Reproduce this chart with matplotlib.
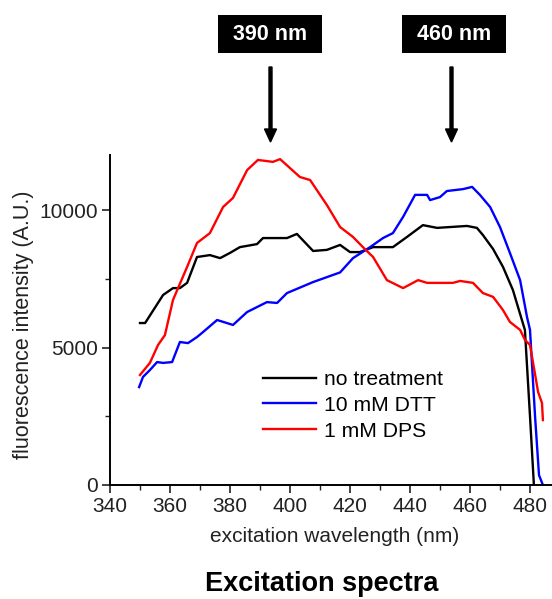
import matplotlib
matplotlib.use("Agg")
import matplotlib.pyplot as plt
from matplotlib.ticker import MultipleLocator
from matplotlib.patches import Rectangle, FancyArrow

plt.rcParams['font.family'] = ['Liberation Sans', 'DejaVu Sans']

# no treatment (black)
nt_x = [350, 351.7, 357.7, 361, 363.3, 365.7, 369, 373.3, 376.7, 380, 383.3, 389, 391, 399, 402.3,
        407.7, 412.3, 416.7, 420, 423.3, 427.7, 434.3, 439, 444.3, 449, 459, 462.3, 464.3, 467.7,
        471, 474.3, 477.3, 478.3, 480, 481.3]
nt_y = [5890, 5890, 6910, 7160, 7160, 7350, 8290, 8360, 8250, 8440, 8650, 8760, 8980, 8980, 9130,
        8510, 8550, 8730, 8470, 8470, 8650, 8650, 9020, 9450, 9350, 9420, 9350, 9090, 8580,
        7930, 7090, 6000, 5640, 2500, 0]

# 10 mM DTT (blue)
dtt_x = [349.7, 351, 353.3, 355.7, 357.7, 360.7, 363.3, 366, 369, 371, 375.7, 381, 385.7, 392.3,
         395.7, 399, 407.7, 416.7, 421, 426.7, 431, 434.3, 437.7, 441.7, 445.7, 446.7, 450, 452.3,
         457.7, 460.7, 463.3, 466.7, 470, 473.3, 476.7, 479, 480, 481.7, 483, 484.3]
dtt_y = [3560, 3930, 4180, 4470, 4440, 4470, 5200, 5160, 5380, 5560, 6000, 5820, 6290, 6650,
         6620, 6980, 7380, 7730, 8250, 8650, 8980, 9160, 9750, 10550, 10550, 10360, 10470, 10690,
         10760, 10840, 10550, 10110, 9380, 8440, 7450, 6110, 5640, 2470, 360, 0]

# 1 mM DPS (red)
dps_x = [350, 353.3, 356, 358.3, 361, 365.7, 369, 373.3, 377.7, 381, 385.7, 389.3, 394.3, 396.7,
         403.3, 406.7, 412.3, 416.7, 421, 424.3, 427.7, 432.3, 437.7, 442.7, 445.7, 454.3, 456.7,
         461, 464.3, 467.7, 471, 473.3, 476.7, 478.3, 480, 482.7, 484, 484.3]
dps_y = [4000, 4440, 5090, 5450, 6730, 7930, 8800, 9160, 10110, 10440, 11450, 11820, 11750, 11850,
         11200, 11090, 10180, 9380, 9020, 8650, 8290, 7450, 7160, 7450, 7350, 7350, 7420,
         7350, 6980, 6840, 6360, 5930, 5640, 5280, 5090, 3380, 2980, 2360]

labels = ["no treatment", "10 mM DTT", "1 mM DPS"]
colors = ["black", "blue", "red"]
peak_labels = ["390 nm", "460 nm"]

W, H = 552, 599
fig = plt.figure(figsize=(W / 100, H / 100), dpi=100)
ax = fig.add_axes([110 / W, 1 - 485 / H, 441 / W, 330 / H])

for xs, ys, lab, c in zip([nt_x, dtt_x, dps_x], [nt_y, dtt_y, dps_y], labels, colors):
    ax.plot(xs, ys, color=c, lw=1.7, label=lab)

ax.set_xlim(340, 487)
ax.set_ylim(0, 12000)
ax.spines['top'].set_visible(False)
ax.spines['right'].set_visible(False)
for s in ['left', 'bottom']:
    ax.spines[s].set_linewidth(1.4)
ax.xaxis.set_major_locator(MultipleLocator(20))
ax.xaxis.set_minor_locator(MultipleLocator(10))
ax.yaxis.set_major_locator(MultipleLocator(5000))
ax.yaxis.set_minor_locator(MultipleLocator(2500))
ax.tick_params(which='major', length=6, width=1.2, labelsize=15, colors='#222222', pad=2.5)
ax.tick_params(which='minor', length=3.5, width=1.0, colors='#222222')

ax.set_xlabel("excitation wavelength (nm)", fontsize=15, color='#222222', labelpad=9)
ax.xaxis.set_label_coords((335 - 110) / 441, -52 / 330)
ax.xaxis.label.set_va('center')
ax.set_ylabel("fluorescence intensity (A.U.)", fontsize=15.5, color='#222222')
ax.yaxis.set_label_coords(-86 / 441, (485 - 325) / 330)
ax.yaxis.label.set_va('center')

ax.legend(loc='upper left', bbox_to_anchor=(263 / W, 1 - 370 / H), bbox_transform=fig.transFigure,
          frameon=False, fontsize=15.2, handlelength=2.5, handletextpad=0.4, labelspacing=0.32,
          borderpad=0, borderaxespad=0)

fig.text(322 / W, 1 - 591 / H, "Excitation spectra", ha='center', va='baseline', fontsize=19.5,
         fontweight='bold')

# annotation boxes and arrows
for (x0, x1), ax_x, txt in zip([(218, 322), (402, 506)], [270.5, 451.5], peak_labels):
    fig.patches.append(Rectangle((x0 / W, 1 - 53 / H), (x1 - x0) / W, 38 / H,
                                 facecolor='black', edgecolor='none', transform=fig.transFigure))
    fig.text((x0 + x1) / 2 / W, 1 - 34.5 / H, txt, ha='center', va='center', fontsize=15.5,
             fontweight='bold', color='white')
    fig.patches.append(FancyArrow(
        ax_x / W, 1 - 67 / H, 0, -(75 / H), width=3 / W, head_width=12 / W, head_length=13 / H,
        length_includes_head=True, color='black', transform=fig.transFigure))

fig.savefig("out.png", dpi=100)
